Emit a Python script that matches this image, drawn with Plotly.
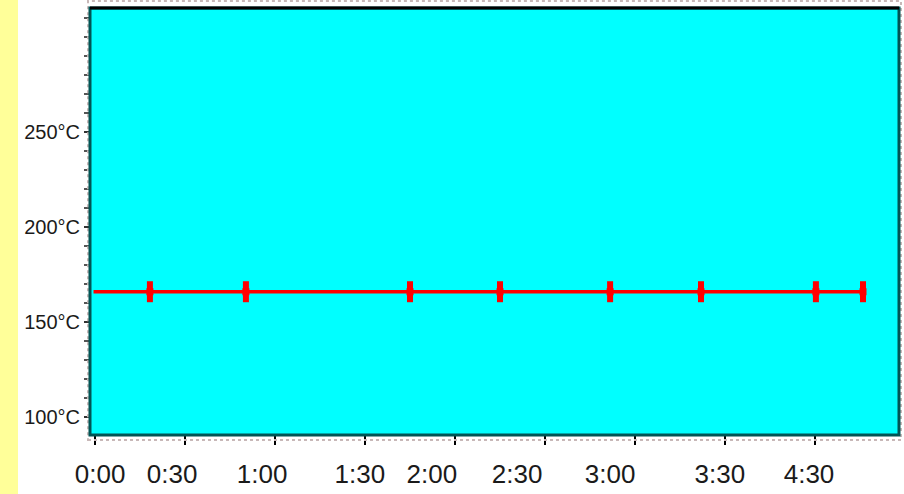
import plotly.graph_objects as go

# data (time in minutes, temperature in °C)
times = [-0.5, 18.3, 50.3, 105, 135, 171.7, 202, 240.3, 256]
temps = [166, 166, 166, 166, 166, 166, 166, 166, 166]
x_tick_vals = [0, 30, 60, 90, 120, 150, 180, 210, 240]
x_label_pos = [1.7, 25.7, 55.7, 88.3, 112.3, 140.7, 171.7, 208.3, 238]
x_labels = ["0:00", "0:30", "1:00", "1:30", "2:00", "2:30", "3:00", "3:30", "4:30"]
y_tick_vals = [100, 150, 200, 250]
y_labels = ["100°C", "150°C", "200°C", "250°C"]

XR = [-1.67, 268]
YR = [90.6, 315.3]

L, R, T, B = 90, 899, 8, 438
W, H = 904, 494
pw, ph = R - L, B - T
def px(x):
    return (x - L) / pw
def py(y):
    return (B - y) / ph

fig = go.Figure()
fig.add_trace(go.Scatter(
    x=times, y=temps, mode="lines",
    line=dict(color="#ff0000", width=3.5),
    hoverinfo="skip", showlegend=False, cliponaxis=False,
))
fig.add_trace(go.Scatter(
    x=times[1:], y=temps[1:], mode="markers",
    marker=dict(symbol="square", size=7, color="#ff0000", line=dict(width=0)),
    hoverinfo="skip", showlegend=False, cliponaxis=False,
))
fig.add_trace(go.Scatter(
    x=times[1:], y=temps[1:], mode="markers",
    marker=dict(symbol="line-ns", size=15, color="#ff0000",
                line=dict(color="#ff0000", width=6)),
    hoverinfo="skip", showlegend=False, cliponaxis=False,
))
fig.add_trace(go.Scatter(
    x=[x_label_pos[0]], y=[temps[0]], xaxis="x2", mode="markers",
    marker=dict(opacity=0), hoverinfo="skip", showlegend=False,
))

font_family = "Liberation Sans, Arial, sans-serif"

fig.update_layout(
    width=W, height=H,
    margin=dict(l=L, r=W - R, t=T, b=H - B, pad=0),
    paper_bgcolor="white",
    plot_bgcolor="#00ffff",
    xaxis=dict(
        range=XR, tickvals=x_tick_vals, showticklabels=False,
        ticks="outside", ticklen=9, tickwidth=2, tickcolor="black",
        showgrid=False, zeroline=False, showline=False,
    ),
    xaxis2=dict(
        range=XR, overlaying="x", side="bottom", anchor="y",
        tickvals=x_label_pos, ticktext=x_labels, ticks="",
        ticklabelstandoff=21,
        tickfont=dict(family=font_family, size=26, color="#1a1a1a"),
        showgrid=False, zeroline=False, showline=False,
    ),
    yaxis=dict(
        range=YR, tickvals=y_tick_vals, ticktext=y_labels,
        ticks="outside", ticklen=5, tickwidth=2, tickcolor="#333333",
        minor=dict(dtick=10, tick0=100, ticks="outside", ticklen=5, tickwidth=2, tickcolor="#555555"),
        tickfont=dict(family=font_family, size=20, color="#1a1a1a"),
        showgrid=False, zeroline=False, showline=False,
    ),
    shapes=[
        dict(type="rect", xref="paper", yref="paper", x0=px(0), x1=px(18), y0=-0.2, y1=1.1,
             fillcolor="#ffff99", line=dict(width=0), layer="below"),
        dict(type="rect", xref="paper", yref="paper", x0=px(88), x1=px(901), y0=py(443), y1=py(1),
             line=dict(color="#c8b8b8", width=2, dash="dot"), layer="above"),
        dict(type="rect", xref="paper", yref="paper", x0=0, x1=1, y0=0, y1=1,
             line=dict(color="#005555", width=3), layer="above"),
        dict(type="line", xref="paper", yref="paper", x0=0, x1=1, y0=1, y1=1,
             line=dict(color="black", width=3), layer="above"),
    ],
)

fig.write_html("out.html")
